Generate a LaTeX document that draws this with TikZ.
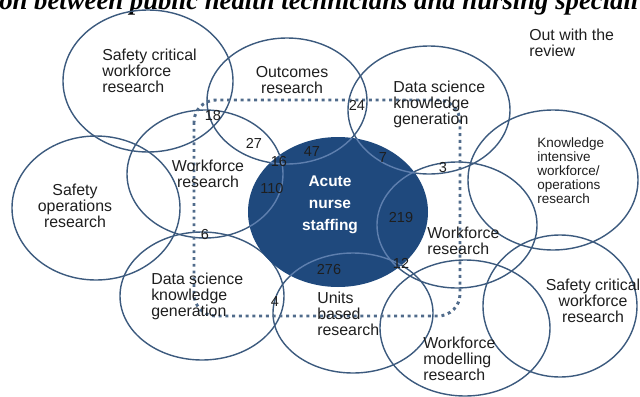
\documentclass[tikz,border=0pt]{standalone}
\usepackage{fontspec}
\setmainfont{Liberation Sans}
\newfontfamily\titlefont{Liberation Serif}
\usepackage{tikz}
\usetikzlibrary{positioning}
\definecolor{ringcol}{HTML}{3C5A7E}
\definecolor{innerring}{HTML}{5E7FAE}
\definecolor{acutecol}{HTML}{1F497D}
\definecolor{txtcol}{HTML}{1E1E1E}

\begin{document}
\begin{tikzpicture}[x=0.025cm, y=-0.025cm, line join=round,
		ring/.style={draw=ringcol, line width=1pt},
		lbl/.style={font=\fontsize{11.3}{11.4}\selectfont, text=txtcol, inner sep=0pt},
		small lbl/.style={font=\fontsize{9.6}{10}\selectfont, text=txtcol, inner sep=0pt},
		num/.style={font=\fontsize{10.3}{11}\selectfont, text=txtcol, inner sep=0pt},
		review box/.style={draw=ringcol!90, line width=2.1pt, line cap=butt, dash pattern=on 2.1pt off 2.7pt, rounded corners=0.55cm}]
		\useasboundingbox (0,0) rectangle (640,396);
		\clip (0,0) rectangle (640,396);
		\node[anchor=base west, inner sep=0pt, font=\titlefont\bfseries\itshape\fontsize{19}{20}\selectfont] (title) at (-1,9) {on between public health technicians and nursing speciali};
		% outer topics
		\draw[ring] (148,81) ellipse [x radius=85, y radius=71];
		\draw[ring] (287,101) ellipse [x radius=80, y radius=63];
		\draw[ring] (429,110) ellipse [x radius=81, y radius=64];
		\draw[ring] (553,180) ellipse [x radius=85, y radius=70];
		\draw[ring] (96,208) ellipse [x radius=84, y radius=72];
		\draw[ring] (205,174) ellipse [x radius=78, y radius=64];
		\draw[ring] (457,225) ellipse [x radius=80, y radius=63];
		\draw[ring] (202,296) ellipse [x radius=82, y radius=64];
		\draw[ring] (353,313) ellipse [x radius=80, y radius=60];
		\draw[ring] (465,328) ellipse [x radius=85, y radius=68];
		\draw[ring] (560,306) ellipse [x radius=77, y radius=71];
		% core topic
		\fill[acutecol] (338,212) ellipse [x radius=90, y radius=75];
		\begin{scope}
			\clip (338,212) ellipse [x radius=90, y radius=75];
			\draw[ring, draw=innerring] (287,101) ellipse [x radius=80, y radius=63];
			\draw[ring, draw=innerring] (429,110) ellipse [x radius=81, y radius=64];
			\draw[ring, draw=innerring] (205,174) ellipse [x radius=78, y radius=64];
			\draw[ring, draw=innerring] (457,225) ellipse [x radius=80, y radius=63];
			\draw[ring, draw=innerring] (353,313) ellipse [x radius=80, y radius=60];
		\end{scope}
		\draw[review box] (194,100) rectangle (460,316);
		% labels
		\node[lbl, align=left, anchor=west] (scwTop) at (102,71) {Safety critical\\workforce\\research};
		\node[lbl, align=center] (outcomes) at (292,80) {Outcomes\\research};
		\node[lbl, align=left, anchor=west] (dsTop) at (393,104) {Data science\\knowledge\\generation};
		\node[small lbl, align=left, anchor=west] (kiw) at (537,171) {Knowledge\\intensive\\workforce/\\operations\\research};
		\node[lbl, align=left, anchor=west] (outside) at (529,43) {Out with the\\review};
		\node[lbl, align=center] (sor) at (75,206) {Safety\\operations\\research};
		\node[lbl, align=center] (wfLeft) at (208,174) {Workforce\\research};
		\node[lbl, align=center, text=white, font=\bfseries\fontsize{11}{15.5}\selectfont] (acute) at (330,205) {Acute\\nurse\\staffing};
		\node[lbl, align=left, anchor=west] (wfRight) at (427,241) {Workforce\\research};
		\node[lbl, align=left, anchor=west] (dsBottom) at (151,296) {Data science\\knowledge\\generation};
		\node[lbl, align=left, anchor=west] (units) at (317,314) {Units\\based\\research};
		\node[lbl, align=left, anchor=west] (wfm) at (423,359) {Workforce\\modelling\\research};
		\node[lbl, align=center] (scwBottom) at (593,301) {Safety critical\\workforce\\research};
		% overlap counts
		\node[num] (n18) at (213,116) {18};
		\node[num] (n24) at (357,105) {24};
		\node[num] (n27) at (254,143) {27};
		\node[num] (n47) at (312,152) {47};
		\node[num] (n16) at (279,162) {16};
		\node[num] (n7) at (383,158) {7};
		\node[num] (n110) at (272,189) {110};
		\node[num] (n3) at (443,168) {3};
		\node[num] (n219) at (401,218) {219};
		\node[num] (n6) at (205,235) {6};
		\node[num] (n12) at (401,263) {12};
		\node[num] (n276) at (329,270) {276};
		\node[num] (n4) at (275,302) {4};
	\end{tikzpicture}
\end{document}
